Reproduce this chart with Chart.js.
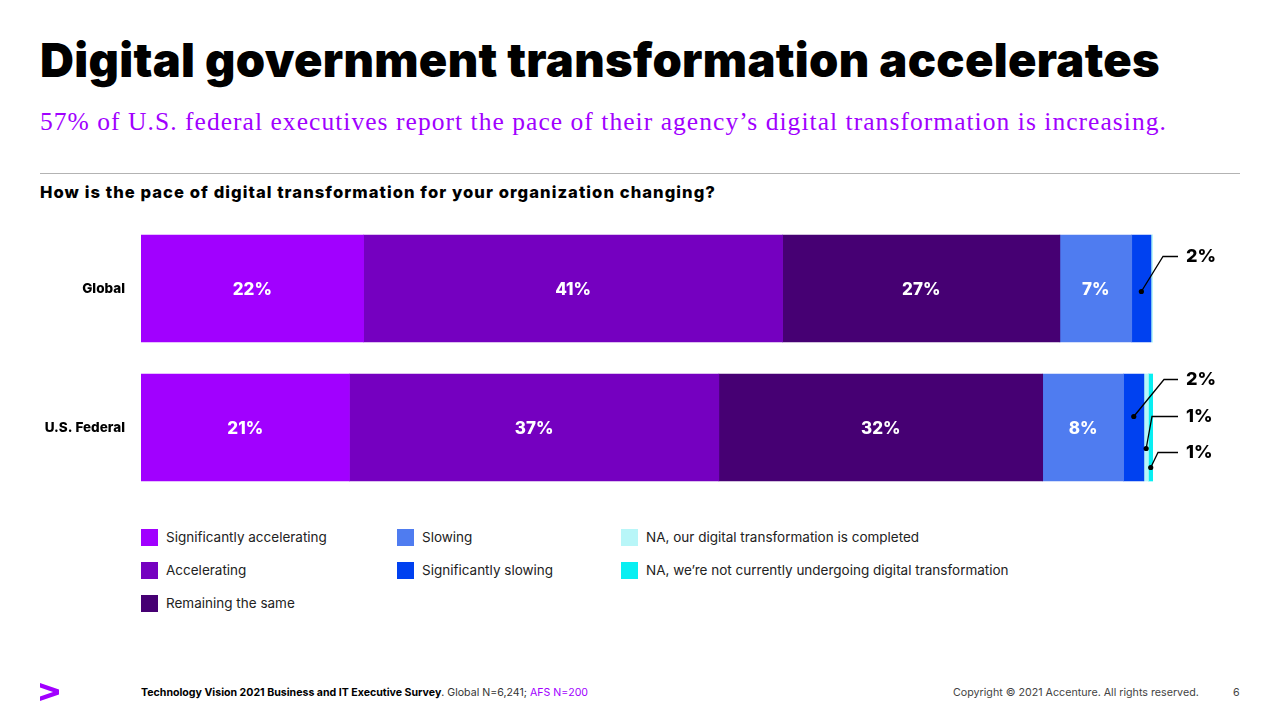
<!DOCTYPE html>
<html>
<head>
<meta charset="utf-8">
<script src="https://cdn.jsdelivr.net/npm/chart.js@4.4.1/dist/chart.umd.min.js"></script>
<style>
  html, body { margin: 0; padding: 0; background: #fff; }
  #page { position: relative; width: 1280px; height: 720px; overflow: hidden; font-family: Inter, "Noto Sans", sans-serif; color: #000; }
  .abs { position: absolute; white-space: nowrap; }
  #title { left: 40px; top: 36px; font-size: 47px; font-weight: 900; line-height: 1; }
  #subtitle { left: 40px; top: 109px; font-family: "Liberation Serif", "DejaVu Serif", serif; font-size: 25.5px; color: #a100ff; line-height: 1; }
  #rule { left: 40px; top: 173px; width: 1200px; height: 0; border-top: 1.5px solid #b3b3b3; }
  #question { left: 40px; top: 183.5px; font-size: 16.6px; font-weight: 800; line-height: 1; }
  #chartBox { left: 0; top: 219px; width: 1280px; height: 278px; }
  #legend { left: 141px; top: 529px; display: grid; grid-auto-flow: column; grid-template-rows: repeat(3, 33px); grid-template-columns: 256px 224px auto; }
  .item { display: flex; align-items: flex-start; font-size: 13.5px; color: #222; }
  .sw { width: 17px; height: 17px; margin-right: 8px; flex: none; }
  .item span { line-height: 17px; }
  #logo { left: 40px; top: 683px; }
  #source { left: 141px; top: 686px; font-size: 10.6px; color: #333; }
  #source b { color: #000; }
  #source .afs { color: #a100ff; }
  #copy { left: 953px; top: 686px; font-size: 10.7px; color: #444; }
  #pnum { left: 1233px; top: 686px; font-size: 10.7px; color: #444; }
</style>
</head>
<body>
<div id="page">
  <div id="title" class="abs">Digital government transformation accelerates</div>
  <div id="subtitle" class="abs">57% of U.S. federal executives report the pace of their agency’s digital transformation is increasing.</div>
  <div id="rule" class="abs"></div>
  <div id="question" class="abs">How is the pace of digital transformation for your organization changing?</div>
  <div id="chartBox" class="abs"><canvas id="chart"></canvas></div>
  <div id="legend" class="abs"></div>
  <svg id="logo" class="abs" width="19" height="18" viewBox="0 0 19 18">
    <polygon points="0,0 19,6.5 19,11.5 0,18 0,13.5 13,9 0,4.5" fill="#a100ff"/>
  </svg>
  <div id="source" class="abs"><b>Technology Vision 2021 Business and IT Executive Survey</b>. Global N=6,241; <span class="afs">AFS N=200</span></div>
  <div id="copy" class="abs">Copyright © 2021 Accenture. All rights reserved.</div>
  <div id="pnum" class="abs">6</div>
</div>
<script>
const categories = ['Global', 'U.S. Federal'];

const seriesNames = [
  'Significantly accelerating',
  'Accelerating',
  'Remaining the same',
  'Slowing',
  'Significantly slowing',
  'NA, our digital transformation is completed',
  'NA, we’re not currently undergoing digital transformation',
];

const seriesColors = ['#a100ff', '#7500c0', '#460073', '#4f7cf0', '#0041f0', '#b8f6f8', '#08eff2'];

// segment widths (percent of respondents)
const globalValues = [22.0, 41.4, 27.4, 7.1, 1.9, 0.2, 0];
const federalValues = [20.6, 36.5, 32.0, 8.0, 2.0, 0.45, 0.45];

// percentages as printed on the chart
const globalLabels = ['22%', '41%', '27%', '7%', '2%', '', ''];
const federalLabels = ['21%', '37%', '32%', '8%', '2%', '1%', '1%'];

// which small segments get a leader line instead of an inside label
const callouts = [
  { row: 0, ds: 4, dotDy: 3, elbowDx: 10, labelDy: -32 },
  { row: 1, ds: 4, dotDy: -11, elbowDx: 11, labelDy: -48 },
  { row: 1, ds: 5, dotDy: 21, elbowDx: -1, labelDy: -11 },
  { row: 1, ds: 6, dotDy: 40, elbowDx: 5, labelDy: 25 },
];

const rowLabels = [globalLabels, federalLabels];

const datasets = seriesNames.map((name, i) => ({
  label: name,
  data: [globalValues[i], federalValues[i]],
  backgroundColor: seriesColors[i],
  borderWidth: 0,
  barThickness: 107,
}));

const insideLabels = {
  id: 'insideLabels',
  afterDatasetsDraw(chart) {
    const ctx = chart.ctx;
    ctx.save();
    ctx.fillStyle = '#fff';
    ctx.font = '800 17px Inter';
    ctx.textAlign = 'center';
    ctx.textBaseline = 'middle';
    chart.data.datasets.forEach((ds, i) => {
      if (i > 3) return;
      chart.getDatasetMeta(i).data.forEach((bar, j) => {
        const p = bar.getProps(['x', 'y', 'base'], true);
        ctx.fillText(rowLabels[j][i], (p.x + p.base) / 2, p.y + 1.5);
      });
    });
    ctx.restore();
  },
};

const leaderLines = {
  id: 'leaderLines',
  afterDatasetsDraw(chart) {
    const ctx = chart.ctx;
    const right = chart.chartArea.right;
    ctx.save();
    ctx.strokeStyle = '#000';
    ctx.fillStyle = '#000';
    ctx.lineWidth = 1.3;
    callouts.forEach((c) => {
      const p = chart.getDatasetMeta(c.ds).data[c.row].getProps(['x', 'y', 'base'], true);
      const dx = (p.x + p.base) / 2;
      const dy = p.y + c.dotDy;
      const ly = p.y + c.labelDy;
      ctx.beginPath();
      ctx.moveTo(dx, dy);
      ctx.lineTo(right + c.elbowDx, ly);
      ctx.lineTo(right + 25, ly);
      ctx.stroke();
      ctx.beginPath();
      ctx.arc(dx, dy, 2.6, 0, Math.PI * 2);
      ctx.fill();
      ctx.font = '800 18px Inter';
      ctx.textAlign = 'left';
      ctx.textBaseline = 'middle';
      ctx.fillText(rowLabels[c.row][c.ds], right + 33, ly);
    });
    ctx.restore();
  },
};

new Chart(document.getElementById('chart'), {
  type: 'bar',
  data: { labels: categories, datasets },
  options: {
    indexAxis: 'y',
    responsive: true,
    maintainAspectRatio: false,
    animation: false,
    layout: { padding: { left: 0, right: 127, top: 0, bottom: 0 } },
    plugins: { legend: { display: false }, tooltip: { enabled: false } },
    scales: {
      x: { stacked: true, min: 0, max: 100, display: false },
      y: {
        stacked: true,
        grid: { display: false, drawTicks: false },
        border: { display: false },
        ticks: { color: '#000', font: { family: 'Inter', size: 13.5, weight: '800' }, padding: 16 },
        afterFit(scale) {
          // fixed gutter for the row names, no extra top/bottom padding
          scale.width = 141;
          scale.paddingTop = 0;
          scale.paddingBottom = 0;
        },
      },
    },
  },
  plugins: [insideLabels, leaderLines],
});

// html legend, filled column by column like the original
const legend = document.getElementById('legend');
seriesNames.forEach((name, i) => {
  const item = document.createElement('div');
  item.className = 'item';
  item.innerHTML = `<div class="sw" style="background:${seriesColors[i]}"></div><span>${name}</span>`;
  if (i >= 3) item.style.gridColumn = i < 5 ? '2' : '3';
  if (i >= 3) item.style.gridRow = String(i < 5 ? i - 2 : i - 4);
  legend.appendChild(item);
});

// squeeze headline text to the widths of the original
function fitWidth(id, target) {
  const el = document.getElementById(id);
  const n = el.textContent.length;
  const w = el.getBoundingClientRect().width;
  el.style.letterSpacing = ((target - w) / n).toFixed(3) + 'px';
}
document.fonts.ready.then(() => {
  fitWidth('title', 1120);
  fitWidth('subtitle', 1127);
  fitWidth('question', 676);
});
</script>
</body>
</html>
